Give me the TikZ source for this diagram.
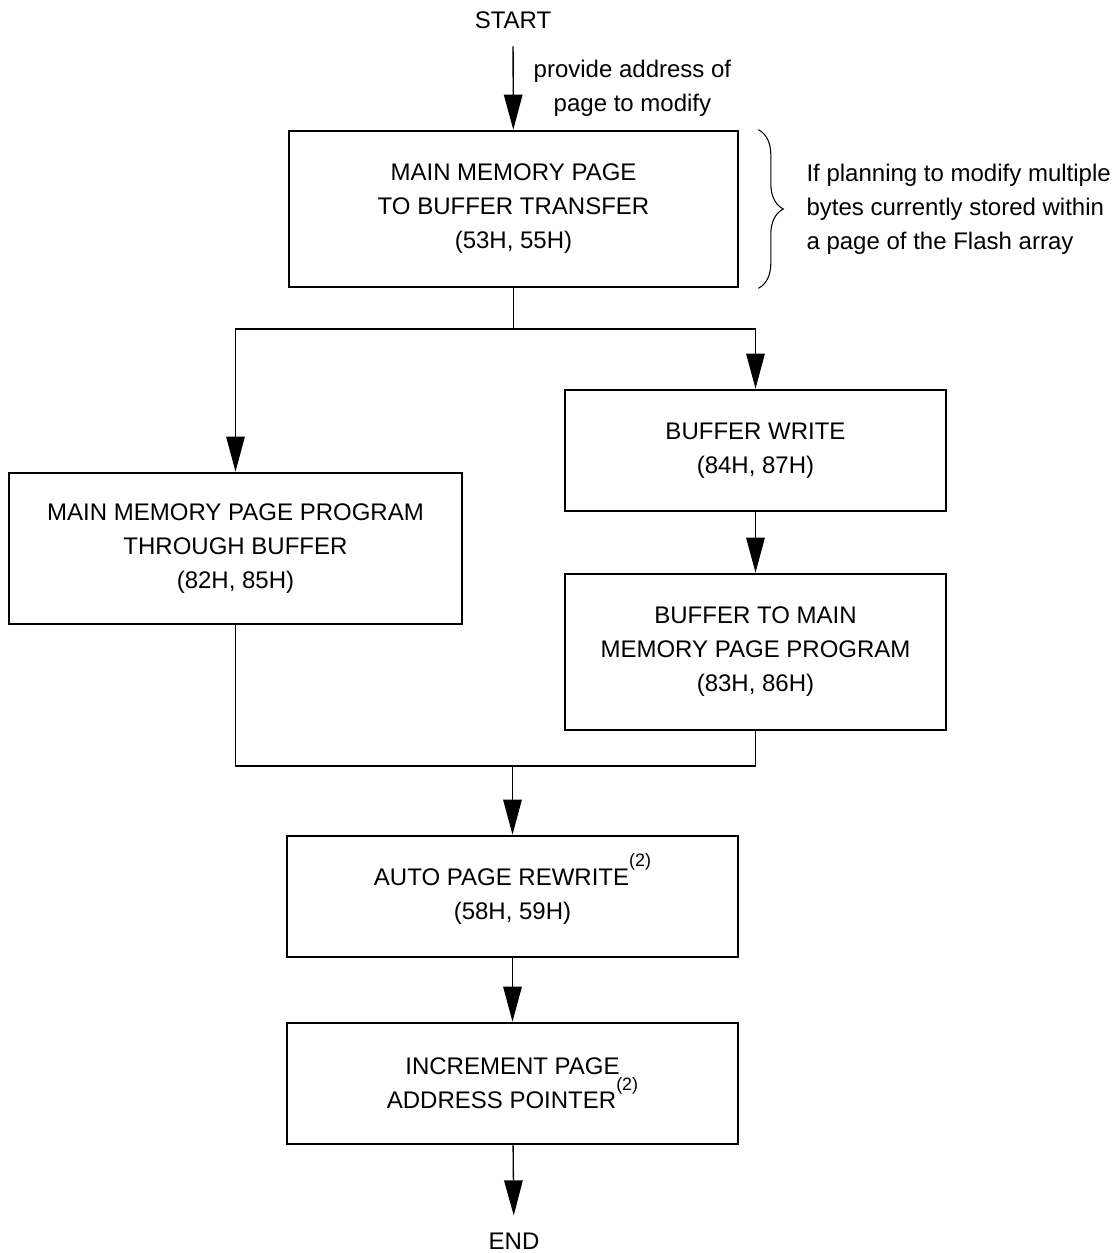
\documentclass[tikz,border=0pt]{standalone}
\usepackage{fontspec}
\setmainfont{Liberation Sans}
\usetikzlibrary{positioning,arrows.meta,decorations.pathreplacing}

\newcommand{\stepnote}[1]{\smash{\raisebox{10.6pt}{\fontsize{10.2}{11}\selectfont(#1)}}}

\begin{document}
\begin{tikzpicture}[
    font=\fontsize{13.66}{19.35}\selectfont,
    stepbox/.style={rectangle, draw, line width=1.5pt, align=center, minimum width=9.02cm, minimum height=2.42cm},
    endpoint/.style={inner sep=0.35cm},
    line/.style={line width=0.75pt},
    arrow/.style={line width=0.75pt, -{Triangle[length=0.7cm, width=0.37cm]}}
]
    \useasboundingbox (0,0) rectangle (22.34,-25.06);

    % Define node positions (top to bottom)
    \node[endpoint] (Start) at (10.26, -0.4) {START};
    \node[stepbox, minimum width=8.98cm, minimum height=3.12cm] (Transfer) at (10.27, -4.18) {MAIN MEMORY PAGE\\TO BUFFER TRANSFER\\(53H, 55H)};
    \node[stepbox, minimum width=9.06cm, minimum height=3.02cm] (Program) at (4.71, -10.97) {MAIN MEMORY PAGE PROGRAM\\THROUGH BUFFER\\(82H, 85H)};
    \node[stepbox, minimum width=7.62cm] (Write) at (15.11, -9.01) {BUFFER WRITE\\(84H, 87H)};
    \node[stepbox, minimum width=7.62cm, minimum height=3.12cm] (BufProgram) at (15.11, -13.04) {BUFFER TO MAIN\\MEMORY PAGE PROGRAM\\(83H, 86H)};
    \node[stepbox] (Rewrite) at (10.25, -17.93) {AUTO PAGE REWRITE\stepnote{2}\\(58H, 59H)};
    \node[stepbox] (Increment) at (10.25, -21.67) {INCREMENT PAGE\\ADDRESS POINTER\stepnote{2}};
    \node[endpoint] (End) at (10.28, -24.83) {END};
    \node[align=left, anchor=west, right=1.22cm of Transfer.east] (Note) {If planning to modify multiple\\bytes currently stored within\\a page of the Flash array};

    % Branch and merge points
    \coordinate (Split) at (10.27, -6.58);
    \coordinate (Join) at (10.25, -15.32);

    % Draw edges
    \draw[arrow] (Start) -- node[right, xshift=0.28cm, align=center] {provide address of\\page to modify} (Transfer);
    \draw[line] (Transfer) -- (Split);
    \draw[arrow] (Split) -| (Program);
    \draw[arrow] (Split) -| (Write);
    \draw[arrow] (Write) -- (BufProgram);
    \draw[line] (Program) |- (Join) -| (BufProgram);
    \draw[arrow] (Join) -- (Rewrite);
    \draw[arrow] (Rewrite) -- (Increment);
    \draw[arrow] (Increment) -- (End);

    % Brace next to the first step
    \draw[line width=0.6pt, decorate, decoration={brace, amplitude=0.5cm}]
        ([xshift=0.38cm]Transfer.north east) -- ([xshift=0.38cm]Transfer.south east);
\end{tikzpicture}
\end{document}
